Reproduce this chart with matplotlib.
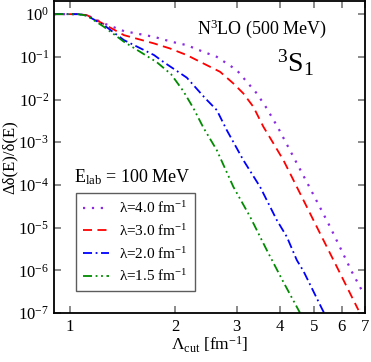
import matplotlib
matplotlib.use("Agg")
import matplotlib.pyplot as plt
from matplotlib.ticker import FixedLocator, NullLocator, FixedFormatter, LogFormatterSciNotation

plt.rcParams['font.family'] = ['Liberation Serif', 'DejaVu Serif']
plt.rcParams['mathtext.fontset'] = 'custom'
plt.rcParams['mathtext.rm'] = 'Liberation Serif'
plt.rcParams['mathtext.it'] = 'Liberation Serif:italic'
plt.rcParams['mathtext.bf'] = 'Liberation Serif:bold'

# lambda = 4.0 fm^-1
x40 = [0.90, 1.054, 1.118, 1.251, 1.428, 1.741, 1.956, 2.160, 2.410, 2.633, 2.812, 3.004,
       3.209, 3.428, 3.661, 3.954, 4.364, 4.818, 5.559, 6.418, 6.912]
y40 = [1.0, 1.0, 0.948, 0.605, 0.400, 0.294, 0.225, 0.188, 0.131, 0.100, 0.070, 0.0489,
       0.0260, 0.0139, 0.0062, 0.0021, 4.55e-4, 9.9e-5, 1.04e-5, 9.2e-7, 2.97e-7]

# lambda = 3.0 fm^-1
x30 = [0.90, 1.054, 1.118, 1.251, 1.428, 1.741, 1.934, 2.160, 2.410, 2.691, 2.937, 3.137,
       3.351, 3.580, 3.825, 4.085, 4.269, 4.662, 5.203, 5.810, 6.70]
y30 = [1.0, 1.0, 0.948, 0.583, 0.322, 0.206, 0.157, 0.110, 0.070, 0.0446, 0.0238, 0.0139,
       0.00675, 0.0023, 9.4e-4, 3.8e-4, 1.86e-4, 4.4e-5, 7.3e-6, 1.21e-6, 1.17e-7]

# lambda = 2.0 fm^-1
x20 = [0.90, 1.054, 1.118, 1.251, 1.428, 1.741, 1.850, 2.160, 2.437, 2.633, 2.812, 3.137,
       3.503, 3.911, 4.178, 4.463, 4.662, 5.262, 5.343]
y20 = [1.0, 1.0, 0.922, 0.553, 0.246, 0.110, 0.0764, 0.0326, 0.0108, 0.00565, 0.00192, 3.8e-4,
       9.0e-5, 1.5e-5, 6.1e-6, 1.73e-6, 9.6e-7, 1.28e-7, 1.0e-7]

# lambda = 1.5 fm^-1
x15 = [0.90, 1.054, 1.118, 1.251, 1.428, 1.772, 1.947, 2.112, 2.256, 2.410, 2.633, 2.937,
       3.280, 3.661, 4.085, 4.560]
y15 = [1.0, 1.0, 0.922, 0.504, 0.225, 0.0751, 0.0393, 0.0157, 0.0063, 0.0022, 6.5e-4, 9.0e-5,
       1.79e-5, 2.97e-6, 5.3e-7, 1.0e-7]

labels = [r'λ=4.0 fm$^{-1}$', r'λ=3.0 fm$^{-1}$', r'λ=2.0 fm$^{-1}$', r'λ=1.5 fm$^{-1}$']
xticks = [1, 2, 3, 4, 5, 6, 7]
yticks = [1e-7, 1e-6, 1e-5, 1e-4, 1e-3, 1e-2, 1e-1, 1e0]

fig = plt.figure(figsize=(3.71, 3.62), dpi=100)
ax = fig.add_axes([0.1456, 0.1354, 0.8384, 0.861])

ax.plot(x40, y40, color='#8a2be2', ls=(0, (1, 3)), lw=1.6, label=labels[0])
ax.plot(x30, y30, color='#ff0000', ls=(0, (5, 3)), lw=1.3, label=labels[1])
ax.plot(x20, y20, color='#0000ff', ls=(0, (5, 2, 1, 2)), lw=1.3, label=labels[2])
ax.plot(x15, y15, color='#008b00', ls=(0, (5, 2, 1, 2, 1, 2)), lw=1.3, label=labels[3])

ax.set_xscale('log')
ax.set_yscale('log')
ax.set_xlim(0.9, 7)
ax.set_ylim(1e-7, 2.0)

ax.xaxis.set_major_locator(FixedLocator(xticks))
ax.xaxis.set_major_formatter(FixedFormatter([str(t) for t in xticks]))
ax.xaxis.set_minor_locator(NullLocator())
ax.yaxis.set_major_locator(FixedLocator(yticks))
ax.yaxis.set_major_formatter(LogFormatterSciNotation())
ax.yaxis.set_minor_locator(NullLocator())

ax.tick_params(which='both', direction='in', top=True, right=True, length=5, width=1.2,
               color='#777777', labelsize=12)
ax.tick_params(axis='x', pad=4)
for s in ax.spines.values():
    s.set_linewidth(1.3)

ax.set_ylabel('Δδ(E)/δ(E)', fontsize=12, labelpad=0)
ax.set_xlabel(r'Λ$_{\rm cut}$ [fm$^{-1}$]', fontsize=12.5, labelpad=0)

ax.text(0.67, 0.895, r'N$^3$LO (500 MeV)', transform=ax.transAxes, fontsize=13, ha='center')
ax.text(0.775, 0.775, r'$^3$S$_1$', transform=ax.transAxes, fontsize=20, ha='center')
ax.text(0.065, 0.42, r'E$_{\rm lab}$ = 100 MeV', transform=ax.transAxes, fontsize=13)

leg = ax.legend(loc='lower left', bbox_to_anchor=(0.07, 0.07), fontsize=11, frameon=True,
                fancybox=False, edgecolor='#333333', handlelength=1.7, handletextpad=0.7,
                labelspacing=0.45, borderpad=0.45, borderaxespad=0)
leg.get_frame().set_linewidth(1.0)

fig.savefig('out.png', dpi=100)
